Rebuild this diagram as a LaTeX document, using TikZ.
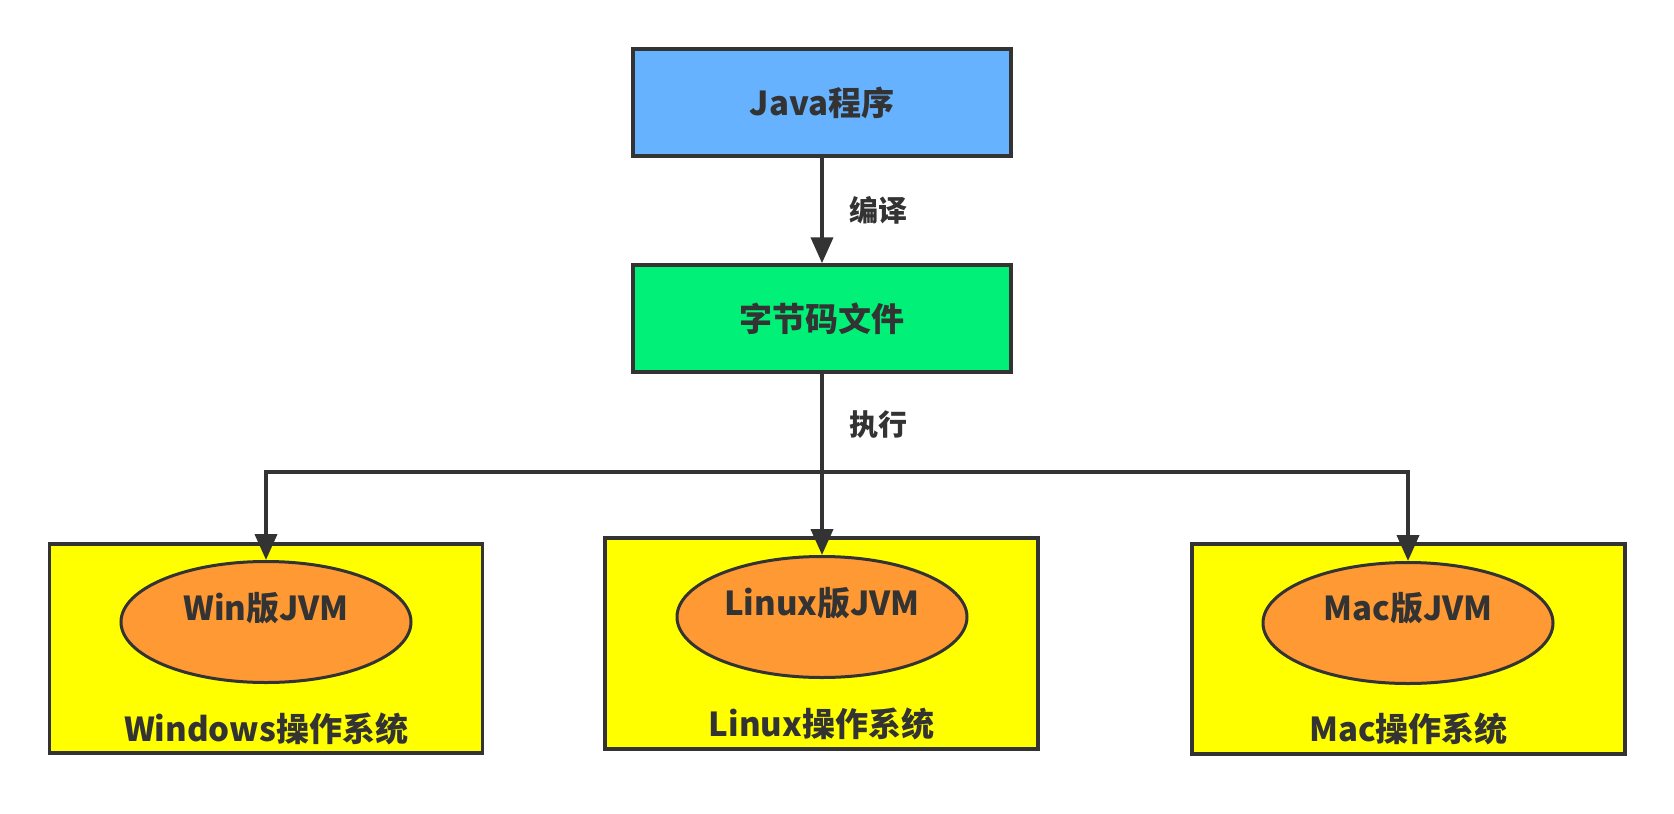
\documentclass[tikz,border=0pt]{standalone}
\usepackage{fontspec}
\setmainfont{Noto Sans CJK SC}
\usetikzlibrary{arrows.meta,shapes.geometric}
\definecolor{ink}{RGB}{51,51,51}
\definecolor{javablue}{RGB}{102,178,255}
\definecolor{bytegreen}{RGB}{0,240,120}
\definecolor{osyellow}{RGB}{255,255,0}
\definecolor{jvmorange}{RGB}{255,153,51}
\tikzset{
  txt/.style={font=\fontsize{33}{38}\selectfont\bfseries, text=ink},
  lbl/.style={font=\fontsize{29}{34}\selectfont\bfseries, text=ink},
  topbox/.style={draw=ink, line width=3.5pt, minimum width=378pt, minimum height=107pt, inner sep=0pt, txt},
  osbox/.style={draw=ink, line width=3.5pt, fill=osyellow, minimum width=433pt, minimum height=209pt, inner sep=0pt},
  jvm/.style={ellipse, draw=ink, line width=3pt, fill=jvmorange, minimum width=290pt, minimum height=121pt, inner sep=0pt},
  arr/.style={draw=ink, line width=4pt, -{Triangle[length=26pt,width=22pt]}},
  ln/.style={draw=ink, line width=4pt}
}
\begin{document}
\begin{tikzpicture}[x=1pt,y=-1pt]
\useasboundingbox[fill=white] (0,0) rectangle (1674,814);
% top boxes
\node[topbox, fill=javablue] (java) at (822,102.5) {Java程序};
\node[topbox, fill=bytegreen] (byte) at (822,318.5) {字节码文件};
% OS boxes
\node[osbox, label={[txt, yshift=-80pt]center:Windows操作系统}] (winos) at (266,648.5) {};
\node[osbox, minimum height=211pt, label={[txt, yshift=-80pt]center:Linux操作系统}] (linos) at (821.5,643.5) {};
\node[osbox, minimum height=210pt, label={[txt, yshift=-80pt]center:Mac操作系统}] (macos) at (1408.5,649) {};
% JVM ellipses
\node[jvm, label={[txt, yshift=14pt]center:Win版JVM}] (winjvm) at (266,622) {};
\node[jvm, label={[txt, yshift=14pt]center:Linux版JVM}] (linjvm) at (822,617) {};
\node[jvm, label={[txt, yshift=15pt]center:Mac版JVM}] (macjvm) at (1408,623) {};
% connectors
\coordinate (hub) at (822,472);
\draw[arr] (java.south) -- (byte.north);
\node[lbl, anchor=west] (compile) at (846,210) {编译};
\node[lbl, anchor=west] (run) at (846,425) {执行};
\draw[ln] (byte.south) -- (hub);
\draw[arr] (hub) -- (linjvm.north);
\draw[arr] (hub) -| (winjvm.north);
\draw[arr] (hub) -| (macjvm.north);
\end{tikzpicture}
\end{document}
